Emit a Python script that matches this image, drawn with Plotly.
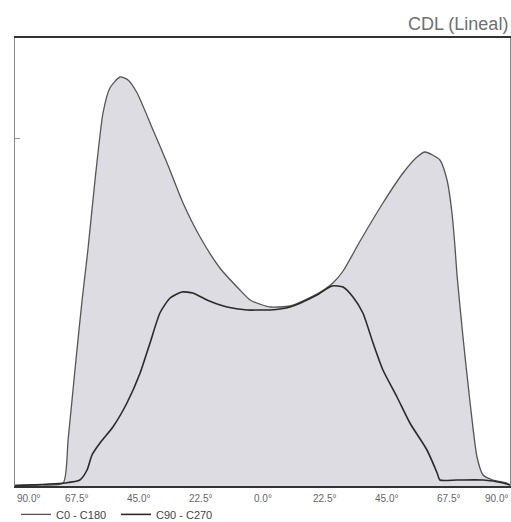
import plotly.graph_objects as go

# C0 - C180 plane (outer, filled)
ang_c0 = [-90, -81, -72.5, -70.7, -68.2, -65.6, -63.5, -60.9, -58, -55.5, -51.8, -48.9,
          -45.6, -39.8, -34.7, -28.9, -22.7, -15.5, -8.2, -4.5, 0, 2.7, 10, 19.8, 25.6,
          29.3, 35.5, 43.8, 51.1, 56.2, 59.1, 64.5, 67.1, 68.9, 70, 70.7, 72.9, 75.5,
          78, 80.2, 83.8, 88.9, 90]
val_c0 = [0.5, 1, 3, 46, 116, 186, 236, 306, 373, 398, 409, 406,
          393, 356, 323, 283, 249, 218, 196, 186, 181, 179, 180, 192, 203,
          215, 245, 283, 313, 329, 334, 326, 306, 273, 239, 212, 149, 83,
          29, 11, 6, 3, 1]

# C90 - C270 plane (inner)
ang_c90 = [-90, -71.8, -66.4, -63.8, -62, -59.1, -54.4, -49.3, -44.5, -40.9, -37.3, -33.6,
           -29.3, -25.3, -20.2, -12.9, -5.6, -0.9, 2.7, 10, 19.8, 25.3, 29.3, 32.9, 36.5,
           40.2, 43.8, 48.9, 53.6, 59.8, 63.5, 64.5, 70.7, 80.2, 87.5, 90]
val_c90 = [0.5, 3, 6, 16, 31, 43, 59, 83, 113, 143, 173, 188,
           194, 193, 186, 179, 176, 176, 176, 179, 191, 200, 199, 189, 173,
           143, 116, 89, 63, 36, 13, 6, 6, 6, 3, 1]

tick_vals = [-90, -67.5, -45, -22.5, 0, 22.5, 45, 67.5, 90]
tick_text = ["90.0°", "67.5°", "45.0°", "22.5°", "0.0°", "22.5°", "45.0°", "67.5°", "90.0°"]

series_names = ["C0 - C180", "C90 - C270"]
title_text = "CDL (Lineal)"

fig = go.Figure()
fig.add_trace(go.Scatter(x=ang_c0, y=val_c0, mode="lines", fill="tozeroy",
                         fillcolor="#dcdce2", line=dict(width=0, shape="spline", smoothing=0.6),
                         showlegend=False, hoverinfo="skip"))
fig.add_trace(go.Scatter(x=ang_c0, y=val_c0, mode="lines", name=series_names[0],
                         line=dict(color="#555555", width=1.3, shape="spline", smoothing=0.6)))
fig.add_trace(go.Scatter(x=ang_c90, y=val_c90, mode="lines", name=series_names[1],
                         line=dict(color="#2a2a2a", width=1.6, shape="spline", smoothing=0.6)))

for i, (tv, tt) in enumerate(zip(tick_vals, tick_text)):
    anchor = "center"
    if i == 0:
        anchor = "left"
    elif i == len(tick_vals) - 1:
        anchor = "right"
    fig.add_annotation(x=tv, y=0, xref="x", yref="paper", yshift=-12, text=tt,
                       showarrow=False, xanchor=anchor, yanchor="middle",
                       font=dict(size=10, color="#666666", family="Liberation Sans"))

fig.add_annotation(x=1, y=1, xref="paper", yref="paper", xshift=0, yshift=14,
                   text=title_text, showarrow=False, xanchor="right", yanchor="middle",
                   font=dict(size=18, color="#707070", family="Liberation Sans"))

fig.update_layout(
    width=511, height=522,
    margin=dict(l=15, r=1, t=38, b=36, autoexpand=False),
    paper_bgcolor="white", plot_bgcolor="white",
    showlegend=True,
    legend=dict(orientation="h", x=0.002, y=-0.031, xanchor="left", yanchor="top",
                font=dict(size=11, color="#444444", family="Liberation Sans"),
                itemwidth=30, entrywidth=55, bgcolor="rgba(0,0,0,0)",
                tracegroupgap=0),
    xaxis=dict(range=[-90, 90], showgrid=False, zeroline=False, showline=True,
               linecolor="#333333", linewidth=2, mirror=True, ticks="",
               showticklabels=False),
    yaxis=dict(range=[0, 448], showgrid=False, zeroline=False, showline=True,
               linecolor="#888888", linewidth=1, mirror=True, ticks="inside",
               tickvals=[348], ticklen=5, tickcolor="#999999", showticklabels=False),
)

fig.write_html("out.html")
